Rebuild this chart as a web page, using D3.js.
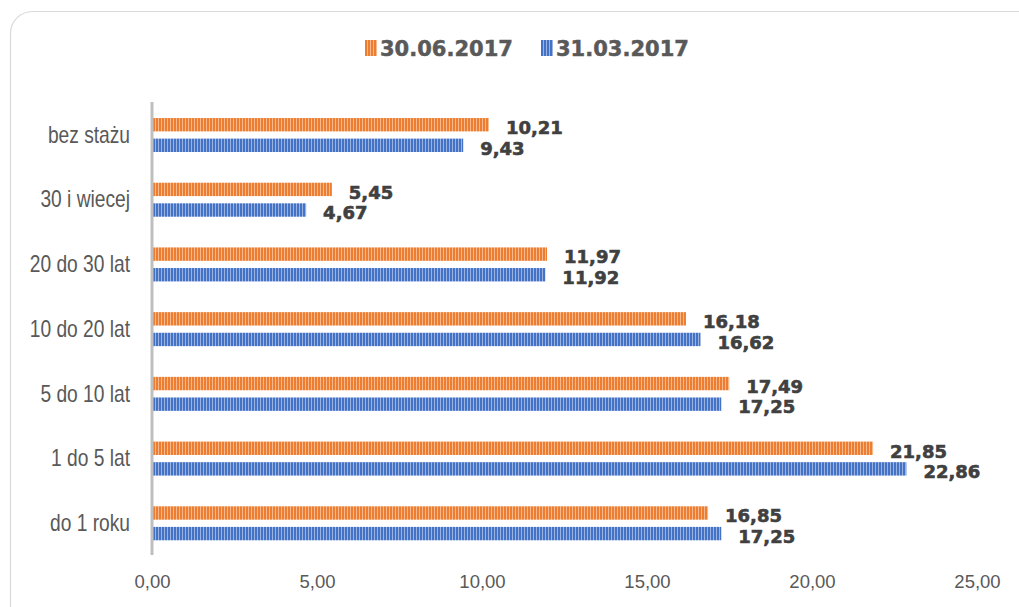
<!DOCTYPE html>
<html>
<head>
<meta charset="utf-8">
<script src="https://cdn.jsdelivr.net/npm/d3@7"></script>
<style>
  body { margin: 0; background: #fff; }
  svg { display: block; }
</style>
</head>
<body>
<div id="chart"></div>
<script>
// chart data
var categories = ["bez stażu", "30 i wiecej", "20 do 30 lat", "10 do 20 lat", "5 do 10 lat", "1 do 5 lat", "do 1 roku"];
var seriesNames = ["30.06.2017", "31.03.2017"];
var valuesJun = [10.21, 5.45, 11.97, 16.18, 17.49, 21.85, 16.85];
var valuesMar = [9.43, 4.67, 11.92, 16.62, 17.25, 22.86, 17.25];
var xTicks = [0, 5, 10, 15, 20, 25];

var width = 1019, height = 607;
var colors = ["#ED7D31", "#4472C4"];
var lightColors = ["#F6B98E", "#9BB3E2"];

var svg = d3.select("#chart").append("svg")
    .attr("width", width)
    .attr("height", height);

// striped fills like the original
var defs = svg.append("defs");
colors.forEach(function(c, i) {
  var p = defs.append("pattern")
      .attr("id", "stripe" + i)
      .attr("patternUnits", "userSpaceOnUse")
      .attr("width", 3)
      .attr("height", 10);
  p.append("rect").attr("width", 3).attr("height", 10).attr("fill", c);
  p.append("rect").attr("x", 2).attr("width", 1).attr("height", 10).attr("fill", lightColors[i]);
});

// frame
svg.append("rect")
    .attr("x", 10.5).attr("y", 11.5)
    .attr("width", 1040).attr("height", 640)
    .attr("rx", 22).attr("ry", 22)
    .attr("fill", "none")
    .attr("stroke", "#d9d9d9")
    .attr("stroke-width", 1.2);

var margin = { top: 102, left: 152, bottom: 555, right: 977 };

var x = d3.scaleLinear().domain([0, 25]).range([margin.left, margin.right]);
var y = d3.scaleBand().domain(categories).range([margin.top, margin.bottom]);
var inner = d3.scaleBand().domain([0, 1]).range([16, 50]).paddingInner(0.35);

var rows = categories.map(function(c, i) {
  return { cat: c, vals: [valuesJun[i], valuesMar[i]] };
});

// x axis labels
var xAxis = d3.axisBottom(x)
    .tickValues(xTicks)
    .tickSize(0)
    .tickPadding(0)
    .tickFormat(function(d) { return d3.format(".2f")(d).replace(".", ","); });

var gx = svg.append("g")
    .attr("transform", "translate(0," + 575 + ")")
    .call(xAxis);
gx.select(".domain").remove();
gx.selectAll("text")
    .attr("fill", "#595959")
    .style("font-family", "Liberation Sans, Arial, sans-serif")
    .style("font-size", "18.5px");

// y axis labels (narrow font look: squeeze horizontally)
var squeeze = 0.8, yPad = 22;
var yAxis = d3.axisLeft(y).tickSize(0).tickPadding(yPad);
var gy = svg.append("g")
    .attr("transform", "translate(" + margin.left + ",0)")
    .call(yAxis);
gy.select(".domain").remove();
gy.selectAll("text")
    .attr("fill", "#595959")
    .attr("x", -yPad / squeeze)
    .attr("dy", "0.35em")
    .attr("transform", "scale(" + squeeze + ",1)")
    .style("font-family", "Liberation Sans, Arial, sans-serif")
    .style("font-size", "24px");

// bars
var groups = svg.selectAll("g.row")
    .data(rows)
    .enter().append("g")
    .attr("class", "row")
    .attr("transform", function(d) { return "translate(0," + y(d.cat) + ")"; });

groups.selectAll("rect")
    .data(function(d) { return d.vals; })
    .enter().append("rect")
    .attr("x", x(0))
    .attr("y", function(d, i) { return inner(i); })
    .attr("width", function(d) { return x(d) - x(0); })
    .attr("height", inner.bandwidth())
    .attr("fill", function(d, i) { return "url(#stripe" + i + ")"; });

groups.selectAll("text")
    .data(function(d) { return d.vals; })
    .enter().append("text")
    .attr("x", function(d) { return x(d) + 17; })
    .attr("y", function(d, i) { return inner(i) + inner.bandwidth() / 2 + 3; })
    .attr("dy", "0.35em")
    .attr("fill", "#404040")
    .attr("stroke", "#404040")
    .attr("stroke-width", 0.6)
    .style("font-family", "DejaVu Sans, sans-serif")
    .style("font-weight", "bold")
    .style("font-size", "18px")
    .text(function(d) { return d3.format(".2f")(d).replace(".", ","); });

// vertical axis line
svg.append("line")
    .attr("x1", x(0)).attr("x2", x(0))
    .attr("y1", margin.top).attr("y2", margin.bottom)
    .attr("stroke", "#bfbfbf")
    .attr("stroke-width", 3);

// legend
var legendX = [365, 541];
var legend = svg.selectAll("g.legend")
    .data(seriesNames)
    .enter().append("g")
    .attr("class", "legend")
    .attr("transform", function(d, i) { return "translate(" + legendX[i] + ",40)"; });

legend.append("rect")
    .attr("width", 12).attr("height", 16)
    .attr("fill", function(d, i) { return "url(#stripe" + i + ")"; });

legend.append("text")
    .attr("x", 15).attr("y", 8)
    .attr("dy", "0.36em")
    .attr("fill", "#595959")
    .attr("stroke", "#595959")
    .attr("stroke-width", 0.5)
    .style("font-family", "DejaVu Sans, sans-serif")
    .style("font-weight", "bold")
    .style("font-size", "21px")
    .text(function(d) { return d; });
</script>
</body>
</html>
